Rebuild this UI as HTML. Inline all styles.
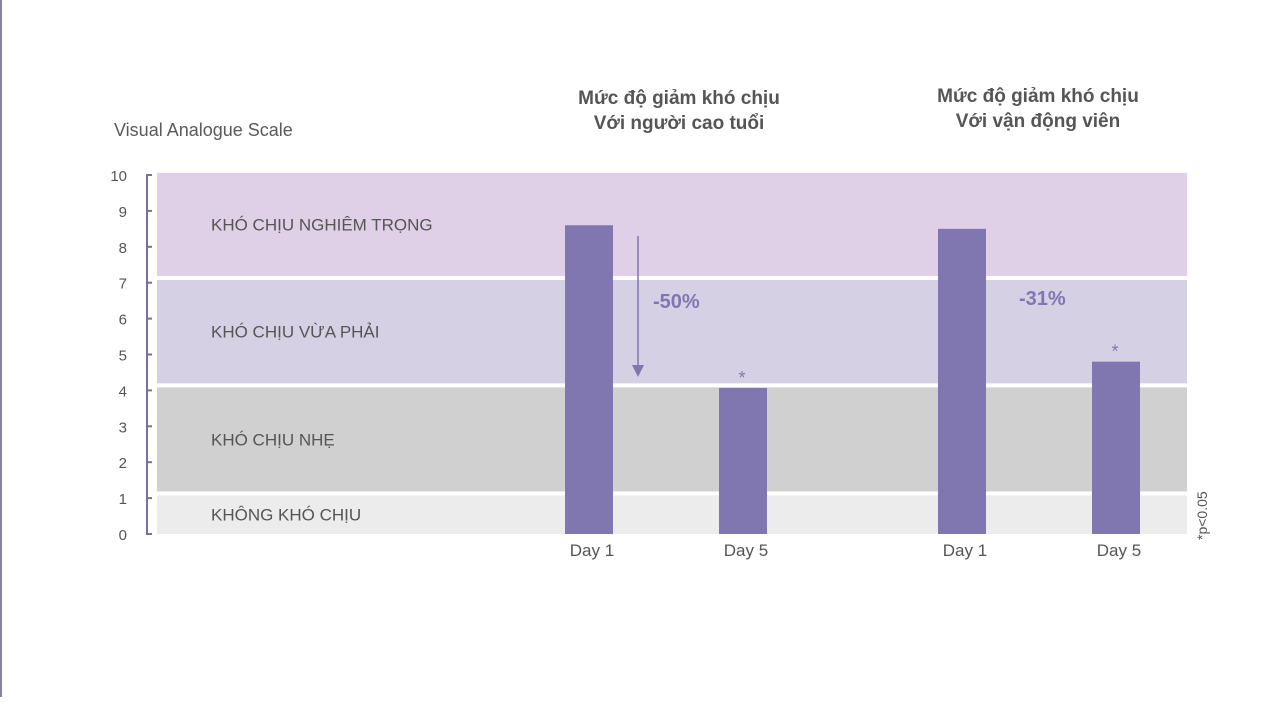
<!DOCTYPE html>
<html><head><meta charset="utf-8"><style>
body{margin:0;width:1280px;height:697px;background:#fff;overflow:hidden;font-family:"Liberation Sans","DejaVu Sans",sans-serif}
</style></head><body>
<svg width="1280" height="697" id="c">
<rect x="0" y="0" width="2" height="697" fill="#8a80a8"/>
<text x="114" y="136" font-size="18" fill="#5a5a5a">Visual Analogue Scale</text>
<g font-size="19" font-weight="bold" fill="#555" text-anchor="middle">
<text x="679" y="104">Mức độ giảm khó chịu</text>
<text x="679" y="129">Với người cao tuổi</text>
<text x="1038" y="102">Mức độ giảm khó chịu</text>
<text x="1038" y="127">Với vận động viên</text>
</g>
<g id="bands"></g>
<g id="axis"></g>
<g id="bars"></g>
<g>
<line x1="638" y1="236" x2="638" y2="366" stroke="#8077b0" stroke-width="1.5"/>
<polygon points="632,365 644,365 638,377" fill="#8077b0"/>
<text x="653" y="308" font-size="20" font-weight="bold" fill="#8077b0">-50%</text>
<text x="1019" y="305" font-size="20" font-weight="bold" fill="#8077b0">-31%</text>
</g>
<text transform="translate(1207,540) rotate(-90)" font-size="14" fill="#555">*p&lt;0.05</text>
</svg>
<script>
const tickLabels=[0,1,2,3,4,5,6,7,8,9,10];
const bandNames=["KHÔNG KHÓ CHỊU","KHÓ CHỊU NHẸ","KHÓ CHỊU VỪA PHẢI","KHÓ CHỊU NGHIÊM TRỌNG"];
const bandLow=[0,1.13,4.14,7.13];
const bandHigh=[1.13,4.14,7.13,10.06];
const barLabels=["Day 1","Day 5","Day 1","Day 5"];
const barValues=[8.6,4.07,8.5,4.8];
const barSig=[false,true,false,true];
const ns="http://www.w3.org/2000/svg";
const y=v=>534-v*35.9;
const barX=[589,743,962,1116];
const bandColors=["#ececec","#d1d0d0","#d6d0e4","#dfd0e8"];
function mk(t,a,p){const e=document.createElementNS(ns,t);for(const k in a)e.setAttribute(k,a[k]);p.appendChild(e);return e;}
const bands=document.getElementById('bands');
bandNames.forEach((n,i)=>{
 const top=y(bandHigh[i])+(i<3?2:0), bot=y(bandLow[i])-(i>0?2:0);
 const r=mk('rect',{x:157,y:top,width:1030,height:bot-top,fill:bandColors[i]},bands);
 
 
 const t=mk('text',{x:211,y:(top+bot)/2+6,'font-size':17,fill:'#555'},bands);
 t.textContent=n;
 
 
});
const ax=document.getElementById('axis');
const al=mk('line',{x1:147,y1:y(10),x2:147,y2:y(0),stroke:'#7a6f9e','stroke-width':2},ax);


tickLabels.forEach(v=>{
 const l=mk('line',{x1:146,y1:y(v),x2:152,y2:y(v),stroke:'#7a6f9e','stroke-width':2},ax);
 
 
 const t=mk('text',{x:127,y:y(v)+6,'font-size':15,fill:'#555','text-anchor':'end'},ax);
 t.textContent=v;
 
 
});
const bars=document.getElementById('bars');
barValues.forEach((v,i)=>{
 const r=mk('rect',{x:barX[i]-24,y:y(v),width:48,height:y(0)-y(v),fill:'#8077b0'},bars);
 
 
 const t=mk('text',{x:barX[i]+3,y:556,'font-size':17,fill:'#555','text-anchor':'middle'},bars);
 t.textContent=barLabels[i];
 
 
 if(barSig[i]){
  const s=mk('text',{x:barX[i]-1,y:y(v)-4,'font-size':18,fill:'#8077b0','text-anchor':'middle'},bars);
  s.textContent='*';
  
  
 }
});
</script>
</body></html>
